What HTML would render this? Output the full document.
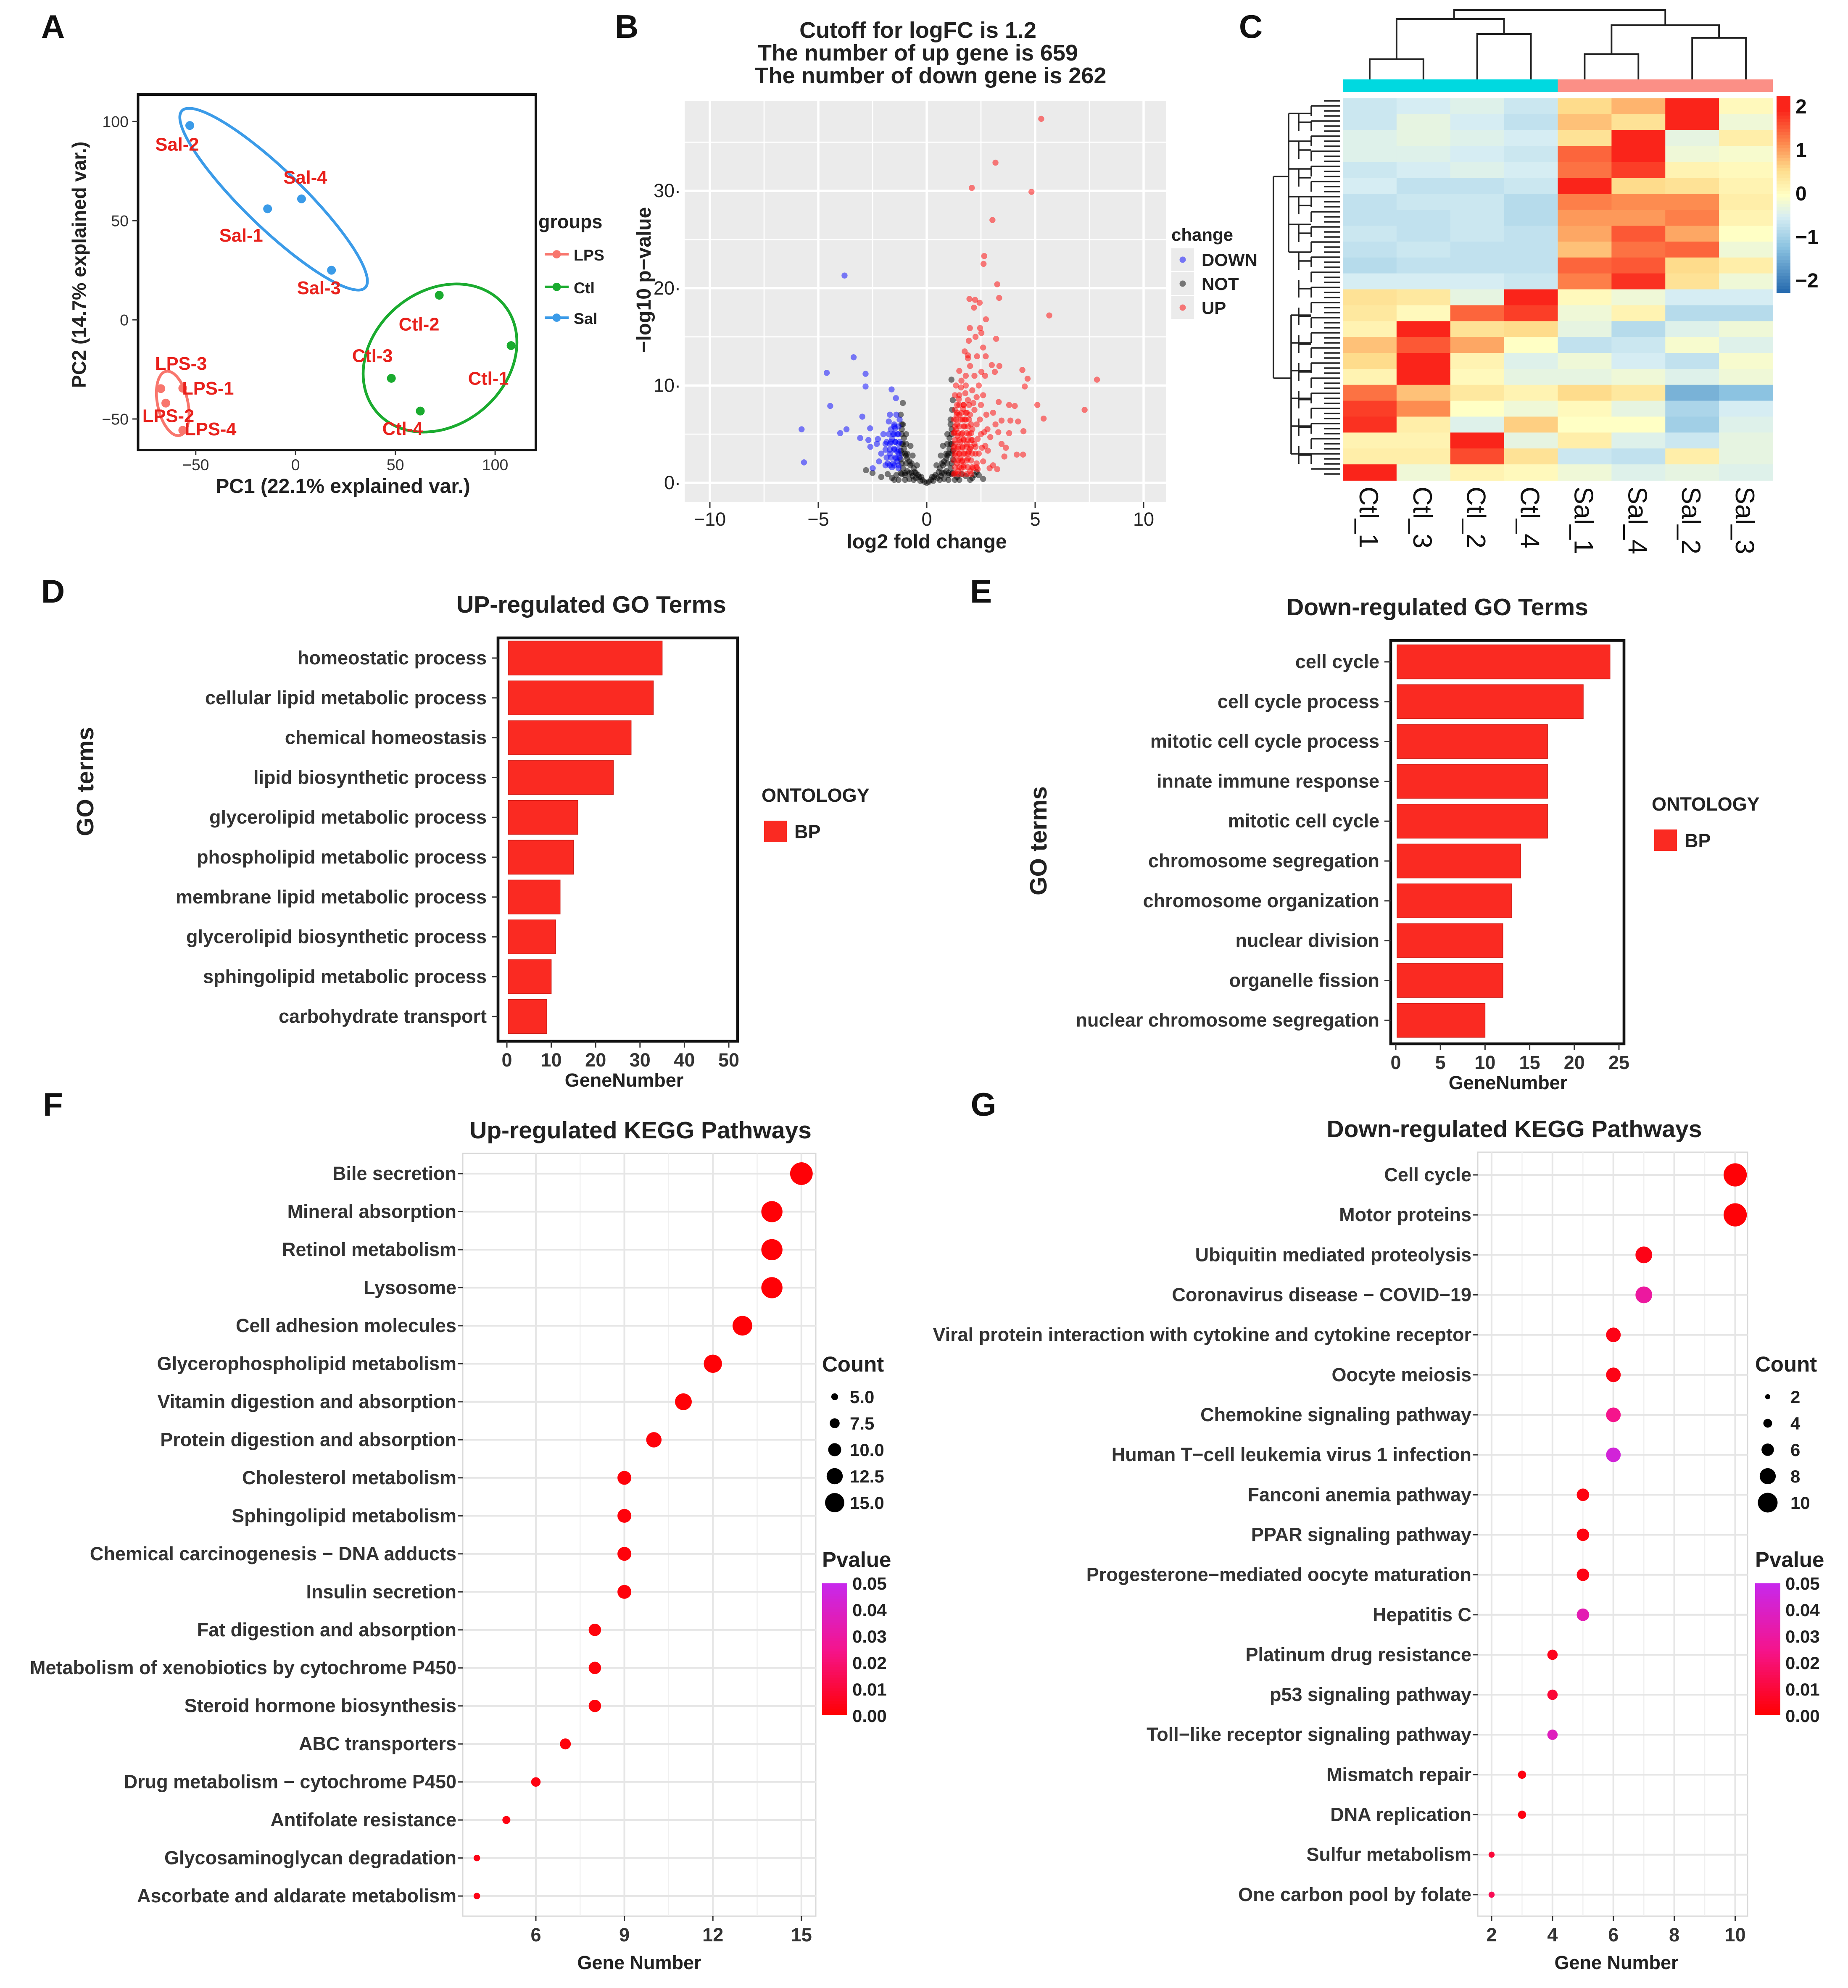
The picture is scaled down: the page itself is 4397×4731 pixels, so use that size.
<!DOCTYPE html>
<html><head><meta charset="utf-8"><style>
html,body{margin:0;padding:0;background:#fff}
svg{display:block}
text{font-family:"Liberation Sans",Arial,sans-serif}
</style></head><body>
<svg id="fig" xmlns="http://www.w3.org/2000/svg" width="4397" height="4731" viewBox="0 0 1465.67 1577"></svg>
<script>
// ---------- DATA ----------
// Panel A PCA
const pcaLabels=["Sal-2","Sal-4","Sal-1","Sal-3","Ctl-2","Ctl-1","Ctl-3","Ctl-4","LPS-3","LPS-1","LPS-2","LPS-4"];
const pcaGroups=["Sal","Sal","Sal","Sal","Ctl","Ctl","Ctl","Ctl","LPS","LPS","LPS","LPS"];
const pcaX=[-53,3,-14,18,72,108,48,62.5,-67.5,-56.5,-65,-56.5];
const pcaY=[98,61,56,25,12.4,-13,-29.5,-46,-34.7,-34.5,-42,-55.7];
// Panel B volcano
const upPts=[[5.28,37.4],[3.17,32.9],[2.08,30.3],[4.83,29.9],[3.03,27.0],[2.65,23.3],[2.62,22.5],[3.25,20.4],[3.34,19.0],[1.97,18.9],[2.23,18.8],[2.44,18.5],[2.18,18.0],[5.65,17.2],[2.73,16.8],[1.99,15.9],[2.46,15.9],[2.52,15.4],[3.2,14.8],[1.94,14.6],[2.25,15.0],[2.6,13.9],[1.75,13.5],[1.9,13.1],[2.32,13.0],[2.72,13.0],[3.0,12.1],[3.35,12.0],[3.14,11.4],[4.41,11.6],[4.65,10.7],[7.85,10.6],[4.52,9.9],[2.52,11.4],[2.69,11.0],[3.32,8.3],[3.8,8.0],[4.06,7.9],[5.1,8.0],[7.28,7.5],[5.39,6.6],[3.06,7.2],[3.45,6.4],[3.86,6.4],[4.21,6.3],[3.3,5.2],[3.8,5.1],[4.46,5.3],[3.45,4.0],[3.65,3.6],[4.15,2.9],[4.44,2.9],[3.58,2.7],[3.06,1.8],[3.25,1.4],[2.82,3.3],[3.17,6.0],[2.93,4.7],
[1.3,1],[1.4,2],[1.5,3],[1.3,4],[1.6,5],[1.4,6],[1.5,7],[1.7,8],[1.3,9],[1.8,10],[1.6,1.5],[1.9,2.5],[2.0,3.5],[1.7,4.5],[2.1,5.5],[1.8,6.5],[2.2,7.5],[1.9,8.5],[2.1,9.5],[2.3,2],[2.4,3],[2.2,4],[2.5,5],[2.3,6],[2.0,7],[1.4,8],[1.5,9],[1.35,5.5],[1.45,3.5],[1.55,2.5],[1.65,6.5],[1.75,3],[1.85,4],[1.95,5],[2.05,6],[2.15,1.5],[2.25,3],[2.35,4.5],[2.45,6.5],[2.6,2.2],[2.7,3.8],[2.8,5.5],[2.5,8],[2.4,10],[2.2,11],[2.0,12],[1.8,11],[1.6,10.5],[1.3,7.5],[1.25,6.5],[1.3,2.8],[1.7,1.8],[2.0,1.2],[2.9,1.5],[2.75,7],[2.6,9],[1.5,11.5],[1.9,12.8],[1.35,10],[2.3,8.8],[1.45,1.2],[1.55,4.2],[1.65,3.6],[1.75,5.8],[1.85,7.2],[1.95,3.2],[2.05,4.4],[2.15,8.2],[1.25,3.4],[1.28,5.2],[1.38,7.0],[1.48,8.6],[1.58,9.8],[1.68,7.6],[1.78,9.2],[2.35,1.4],[2.55,3.6],[2.65,5.2],[1.42,4.8],[1.62,2.2],
[1.25,0.9],[1.45,0.9],[1.65,0.9],[1.85,0.9],[2.05,0.9],
[1.3,1.6],[1.5,1.6],[1.7,1.6],[1.9,1.6],[2.1,1.6],[2.3,1.6],
[1.25,2.3],[1.45,2.3],[1.65,2.3],[1.85,2.3],[2.05,2.3],
[1.3,3.0],[1.5,3.0],[1.7,3.0],[1.9,3.0],[2.1,3.0],
[1.25,3.7],[1.45,3.7],[1.65,3.7],[1.85,3.7],[2.05,3.7],[2.25,3.7],
[1.3,4.4],[1.5,4.4],[1.7,4.4],[1.9,4.4],[2.1,4.4],
[1.25,5.1],[1.45,5.1],[1.65,5.1],[1.85,5.1],[2.05,5.1],
[1.3,5.8],[1.5,5.8],[1.7,5.8],[1.9,5.8],
[1.35,6.5],[1.55,6.5],[1.75,6.5],[1.95,6.5],
[1.4,7.2],[1.6,7.2],[1.8,7.2],
[1.5,8.0],[1.7,8.0],[1.95,8.0]];
const downPts=[[-3.79,21.3],[-3.37,12.9],[-4.61,11.3],[-2.82,11.2],[-2.82,9.9],[-1.62,9.6],[-1.42,8.7],[-4.45,7.9],[-1.7,7.0],[-2.97,6.8],[-5.77,5.5],[-3.7,5.5],[-3.99,5.1],[-2.61,5.6],[-3.07,4.6],[-2.69,4.4],[-2.6,3.7],[-5.66,2.1],[-2.49,1.5],[-2.25,4.5],
[-1.3,1.5],[-1.4,2.5],[-1.5,3.5],[-1.6,4.5],[-1.3,5],[-1.5,6],[-1.7,3],[-1.8,2],[-1.9,4],[-2.0,5],[-1.35,3.2],[-1.45,4.2],[-1.55,2],[-1.65,5.5],[-1.75,6.3],[-2.1,3],[-2.2,2.2],[-1.25,6.5],[-1.4,7],[-2.3,4],[-1.6,1.6],[-1.9,1.8],[-1.3,4],[-1.5,5],[-1.35,2.2],[-1.45,5.6],[-1.7,4.0],[-1.28,3.0],
[-1.3,1.8],[-1.5,1.8],[-1.7,1.8],
[-1.25,2.6],[-1.45,2.6],[-1.65,2.6],[-1.85,2.6],
[-1.3,3.4],[-1.5,3.4],[-1.7,3.4],[-1.9,3.4],
[-1.25,4.2],[-1.45,4.2],[-1.65,4.2],[-1.85,4.2],
[-1.35,5.0],[-1.55,5.0],[-1.75,5.0],
[-1.3,5.8],[-1.5,5.8]];
const notPts=[[0,0],[-0.2,0.3],[0.2,0.3],[-0.4,0.8],[0.4,0.8],[-0.6,1.5],[0.6,1.5],[-0.8,2.2],[0.8,2.2],[-1.0,3],[1.0,3],[-1.1,4],[1.1,4],[-1.15,5.5],[1.15,5.5],[-1.2,7],[1.17,7.5],[-0.5,0.5],[0.5,0.5],[-0.7,1],[0.7,1],[-0.9,1.2],[0.9,1.2],[-1.1,1.5],[1.1,1.5],[-1.0,0.8],[1.0,0.8],[-0.3,0.2],[0.3,0.2],[-0.9,2.5],[0.9,2.5],[-1.05,3.5],[1.05,3.5],[-1.15,0.9],[1.15,0.9],[1.14,10.6],[1.2,8.5],[-1.1,8.2],[-1.2,1.0],[1.4,0.6],[1.6,0.9],[1.8,0.7],[2.1,0.5],[2.4,0.8],[2.6,0.4],[-1.4,0.8],[-1.6,0.5],[-1.8,0.9],[-2.5,1.0],[-2.8,1.3],[-1.3,0.3],[1.3,0.3],[0.8,0.4],[-0.8,0.4],[2.3,1.1],[-2.1,0.6],[-0.1,0.1],[0.1,0.1],[-0.35,0.6],[0.35,0.6],[-0.55,1.1],[0.55,1.1],[-0.75,1.8],[0.75,1.8],[-0.95,2.8],[0.95,2.8],[-1.1,6],[1.1,6.5],[1.05,4.6],[-1.05,4.6],[-0.65,0.7],[0.65,0.7],[1.2,2.4],[-1.2,2.4],[1.2,3.3],[-1.2,3.3],
[-1.5,0.3],[-1.0,0.3],[-0.6,0.3],[0.6,0.3],[1.0,0.3],[1.5,0.3],[2.0,0.3],
[-1.0,1.0],[-0.8,1.0],[-0.5,1.0],[-0.25,0.6],[0.25,0.6],[0.8,1.0],[1.0,1.0],[1.2,1.0],[2.2,0.8],
[-1.15,2.0],[-0.95,2.0],[-0.7,2.0],[-0.45,1.8],[0.45,1.8],[0.7,2.0],[0.95,2.0],[1.15,2.0],
[-1.15,3.0],[-0.9,3.0],[-0.65,2.8],[0.65,2.8],[0.9,3.0],[1.15,3.0],
[-1.15,4.0],[-0.95,4.0],[-0.75,3.8],[0.75,3.8],[0.95,4.0],[1.15,4.0],
[-1.15,5.0],[-0.95,5.0],[0.95,5.0],[1.15,5.0],[-1.15,6.0],[1.1,6.0]];
// Panel C heatmap
const hmCols=["Ctl_1","Ctl_3","Ctl_2","Ctl_4","Sal_1","Sal_4","Sal_2","Sal_3"];
const hmVals=[
[-0.6,-0.5,-0.4,-0.6,0.6,0.9,2.0,0.1],[-0.6,-0.3,-0.5,-0.7,0.8,0.5,2.0,-0.2],[-0.4,-0.3,-0.4,-0.5,0.5,2.0,-0.3,0.3],[-0.4,-0.4,-0.5,-0.6,1.5,2.0,-0.2,-0.1],
[-0.6,-0.5,-0.4,-0.5,1.4,1.8,0.2,0.1],[-0.5,-0.7,-0.7,-0.6,2.0,0.6,0.5,0.2],[-0.7,-0.6,-0.6,-0.8,1.3,1.2,1.2,0.3],[-0.7,-0.7,-0.6,-0.8,1.1,1.1,1.3,0.2],
[-0.6,-0.7,-0.6,-0.7,1.0,1.6,1.0,0.0],[-0.7,-0.6,-0.7,-0.7,0.8,1.4,1.5,-0.2],[-0.8,-0.7,-0.7,-0.7,1.5,1.6,0.6,0.3],[-0.5,-0.5,-0.5,-0.6,1.3,1.9,0.5,-0.2],
[0.5,0.4,-0.3,2.0,0.1,-0.2,-0.5,-0.5],[0.4,0.1,1.5,1.8,-0.2,0.2,-0.8,-0.8],[0.2,2.0,0.5,0.6,-0.3,-0.8,-0.4,-0.2],[0.8,1.6,1.0,0.0,-0.7,-0.6,-0.1,-0.4],
[0.6,2.0,0.2,-0.4,-0.2,-0.5,-0.7,-0.1],[0.2,2.0,0.1,-0.3,-0.3,-0.2,-0.4,-0.2],[1.4,0.8,0.4,0.2,0.6,0.4,-1.4,-1.2],[1.8,1.2,0.0,-0.2,0.1,-0.3,-0.9,-0.5],
[1.9,0.3,-0.4,0.7,0.0,0.0,-1.0,-0.4],[0.2,0.2,2.0,-0.3,0.3,-0.4,-0.6,-0.3],[0.3,0.3,1.7,0.5,-0.6,-0.7,0.3,-0.3],[2.0,-0.2,0.2,0.1,-0.2,-0.4,-0.3,-0.4]];
const hmTicks=[2,1,0,-1,-2];
// Panel D
const goUpTerms=["homeostatic process","cellular lipid metabolic process","chemical homeostasis","lipid biosynthetic process","glycerolipid metabolic process","phospholipid metabolic process","membrane lipid metabolic process","glycerolipid biosynthetic process","sphingolipid metabolic process","carbohydrate transport"];
const goUpVals=[35,33,28,24,16,15,12,11,10,9];
const goUpTicks=[0,10,20,30,40,50];
// Panel E
const goDownTerms=["cell cycle","cell cycle process","mitotic cell cycle process","innate immune response","mitotic cell cycle","chromosome segregation","chromosome organization","nuclear division","organelle fission","nuclear chromosome segregation"];
const goDownVals=[24,21,17,17,17,14,13,12,12,10];
const goDownTicks=[0,5,10,15,20,25];
// Panel F
const keggUpTerms=["Bile secretion","Mineral absorption","Retinol metabolism","Lysosome","Cell adhesion molecules","Glycerophospholipid metabolism","Vitamin digestion and absorption","Protein digestion and absorption","Cholesterol metabolism","Sphingolipid metabolism","Chemical carcinogenesis \u2212 DNA adducts","Insulin secretion","Fat digestion and absorption","Metabolism of xenobiotics by cytochrome P450","Steroid hormone biosynthesis","ABC transporters","Drug metabolism \u2212 cytochrome P450","Antifolate resistance","Glycosaminoglycan degradation","Ascorbate and aldarate metabolism"];
const keggUpVals=[15,14,14,14,13,12,11,10,9,9,9,9,8,8,8,7,6,5,4,4];
const keggUpP=[0.001,0.001,0.001,0.001,0.001,0.001,0.001,0.002,0.002,0.002,0.002,0.002,0.002,0.002,0.002,0.002,0.003,0.003,0.004,0.004];
const keggUpTicks=[6,9,12,15];
const keggUpSizeLegend=[5.0,7.5,10.0,12.5,15.0];
// Panel G
const keggDownTerms=["Cell cycle","Motor proteins","Ubiquitin mediated proteolysis","Coronavirus disease \u2212 COVID\u221219","Viral protein interaction with cytokine and cytokine receptor","Oocyte meiosis","Chemokine signaling pathway","Human T\u2212cell leukemia virus 1 infection","Fanconi anemia pathway","PPAR signaling pathway","Progesterone\u2212mediated oocyte maturation","Hepatitis C","Platinum drug resistance","p53 signaling pathway","Toll\u2212like receptor signaling pathway","Mismatch repair","DNA replication","Sulfur metabolism","One carbon pool by folate"];
const keggDownVals=[10,10,7,7,6,6,6,6,5,5,5,5,4,4,4,3,3,2,2];
const keggDownP=[0.001,0.001,0.004,0.03,0.004,0.004,0.025,0.045,0.003,0.003,0.004,0.035,0.005,0.01,0.038,0.003,0.003,0.01,0.015];
const keggDownTicks=[2,4,6,8,10];
const keggDownSizeLegend=[2,4,6,8,10];
const pTicks=[0.05,0.04,0.03,0.02,0.01,0.00];

// ---------- HELPERS ----------
const svg=document.getElementById('fig');
const NS="http://www.w3.org/2000/svg";
function el(tag,attrs,parent){const e=document.createElementNS(NS,tag);for(const k in attrs)e.setAttribute(k,attrs[k]);(parent||svg).appendChild(e);return e;}
function txt(s,x,y,size,opts,parent){opts=opts||{};const t=el('text',{x:x,y:y,'font-size':size,'font-weight':opts.w||'bold',fill:opts.fill||'#222','text-anchor':opts.a||'start'},parent);if(opts.rot)t.setAttribute('transform','rotate('+opts.rot+' '+x+' '+y+')');t.textContent=s;return t;}
function grp(name){const g=el('g',{});return g;}

[["A",42,30],["B",497,30],["C",992,30],["D",42,478],["E",778,478],["F",42,885],["G",780,885]].forEach(p=>{const t=txt(p[0],p[1],p[2],26,{a:'middle',fill:'#111'});});

// ---------- PANEL A ----------
(function(){
const g=grp('pca-plot');
const xA=v=>234.4+v*1.583, yA=v=>253.7-v*1.573;
const col={LPS:'#f8766d',Ctl:'#1aab2f',Sal:'#3b9be8'};
el('rect',{x:109.5,y:75,width:315.5,height:282,fill:'none',stroke:'#111','stroke-width':2},g);
const e1=el('ellipse',{cx:217,cy:158,rx:101,ry:23,fill:'none',stroke:col.Sal,'stroke-width':2.2,transform:'rotate(44 217 158)'},g);

const e2=el('ellipse',{cx:349,cy:284,rx:66,ry:53,fill:'none',stroke:col.Ctl,'stroke-width':2.2,transform:'rotate(-40 349 284)'},g);

const e3=el('ellipse',{cx:137,cy:320,rx:12,ry:26,fill:'none',stroke:col.LPS,'stroke-width':2.2,transform:'rotate(-12 137 320)'},g);

pcaX.forEach((v,i)=>{
 const c=el('circle',{cx:xA(v),cy:yA(pcaY[i]),r:3.5,fill:col[pcaGroups[i]]},g);
 
});
const lo={"Sal-2":[-10,15],"Sal-4":[3,-17],"Sal-1":[-21,21],"Sal-3":[-10,14],"Ctl-2":[-16,23],"Ctl-1":[-18,26],"Ctl-3":[-15,-18],"Ctl-4":[-14,14],"LPS-3":[16,-20],"LPS-1":[20,0],"LPS-2":[2,10],"LPS-4":[22,-1]};
pcaLabels.forEach((s,i)=>{const t=txt(s,xA(pcaX[i])+lo[s][0],yA(pcaY[i])+lo[s][1]+5,14.5,{fill:'#e8211c',a:'middle'},g);});
[-50,0,50,100].forEach(v=>{el('line',{x1:xA(v),x2:xA(v),y1:357,y2:361,stroke:'#333'},g);txt(String(v).replace('-','\u2212'),xA(v),373,12.5,{a:'middle',w:'normal',fill:'#333'},g);});
[100,50,0,-50].forEach(v=>{el('line',{x1:105,x2:109.5,y1:yA(v),y2:yA(v),stroke:'#333'},g);txt(String(v).replace('-','\u2212'),102,yA(v)+4.5,12.5,{a:'end',w:'normal',fill:'#333'},g);});
txt('PC1 (22.1% explained var.)',272,391,16,{a:'middle'},g);
txt('PC2 (14.7% explained var.)',68,210,15.5,{a:'middle',rot:-90},g);
txt('groups',427,181,15,{},g);
[['LPS',201.7],['Ctl',227.6],['Sal',252]].forEach(r=>{el('line',{x1:432,x2:451,y1:r[1],y2:r[1],stroke:col[r[0]],'stroke-width':2},g);el('circle',{cx:441.5,cy:r[1],r:3.3,fill:col[r[0]]},g);txt(r[0],455,r[1]+5,12.5,{},g);});
})();

// ---------- PANEL B ----------
(function(){
const g=grp('volcano-plot');
const xB=v=>735+v*17.2, yB=v=>383-v*7.72;
el('rect',{x:543,y:80,width:382,height:318,fill:'#ebebeb'},g);
for(let v=-12.5;v<=12.5;v+=2.5){const x=xB(v);if(x<543||x>925)continue;const maj=(v%5===0);el('line',{x1:x,x2:x,y1:80,y2:398,stroke:'#fff','stroke-width':maj?1.8:0.9},g);}
for(let v=-5;v<=40;v+=5){const y=yB(v);if(y<80||y>398)continue;const maj=(v%10===0);el('line',{x1:543,x2:925,y1:y,y2:y,stroke:'#fff','stroke-width':maj?1.8:0.9},g);}
function pts(arr,c,name){arr.forEach(p=>{const e=el('circle',{cx:xB(p[0]),cy:yB(p[1]),r:2.4,fill:c,'fill-opacity':0.5},g);});}
pts(notPts,'#000','volcano-point-not');pts(downPts,'#0000ff','volcano-point-down');pts(upPts,'#ff0000','volcano-point-up');
[-10,-5,0,5,10].forEach(v=>{el('line',{x1:xB(v),x2:xB(v),y1:398,y2:403,stroke:'#333'},g);txt(String(v).replace('-','\u2212'),xB(v),417,15,{a:'middle',w:'normal',fill:'#222'},g);});
[0,10,20,30].forEach(v=>{txt(String(v)+'\u00b7',540,yB(v)+5,15,{a:'end',w:'normal',fill:'#222'},g);});
txt('log2 fold change',735,435,16,{a:'middle'},g);
txt('\u2212log10 p\u2212value',516,222,16,{a:'middle',rot:-90},g);
txt('Cutoff for logFC is 1.2',728,30,18,{a:'middle'},g);
txt('The number of up gene is 659',728,48,18,{a:'middle'},g);
txt('The number of down gene is 262',738,66,18,{a:'middle'},g);
txt('change',929,191,14,{},g);
[['DOWN','#0000ff',206],['NOT','#000',225],['UP','#ff0000',244]].forEach(r=>{el('rect',{x:929,y:r[2]-9,width:18,height:18,fill:'#ebebeb'},g);el('circle',{cx:938,cy:r[2],r:2.5,fill:r[1],'fill-opacity':0.5},g);txt(r[0],953,r[2]+5,14,{},g);});
})();

// ---------- PANEL C ----------
(function(){
const g=grp('heatmap');
const x0=1065,y0=78,w=341/8,H=303,rh=H/hmVals.length;
const stops=[[-2.3,[33,102,172]],[-1.2,[140,195,225]],[-0.5,[214,237,243]],[0,[255,255,197]],[0.6,[254,220,140]],[1.2,[253,140,80]],[2.0,[250,36,26]]];
function cmap(v){if(v<=stops[0][0])return 'rgb('+stops[0][1]+')';for(let i=1;i<stops.length;i++){if(v<=stops[i][0]){const a=stops[i-1],b=stops[i],t=(v-a[0])/(b[0]-a[0]);return 'rgb('+a[1].map((c,k)=>Math.round(c+(b[1][k]-c)*t)).join(',')+')';}}return 'rgb('+stops[stops.length-1][1]+')';}
hmVals.forEach((row,r)=>row.forEach((v,c)=>{const e=el('rect',{x:x0+c*w,y:y0+r*rh,width:w+0.3,height:rh+0.3,fill:cmap(v)},g);}));
el('rect',{x:x0,y:63,width:w*4,height:10,fill:'#00d9e0'},g);
el('rect',{x:x0+w*4,y:63,width:w*4,height:10,fill:'#fb8f86'},g);
hmCols.forEach((s,i)=>{const t=txt(s,x0+w*(i+0.5)-8,386,21,{w:'normal',fill:'#111',rot:90},g);});
const cx=i=>x0+w*(i+0.5);
const d='M'+cx(0)+',63V47H'+cx(1)+'V63 M'+cx(2)+',63V27H'+cx(3)+'V63 M'+((cx(0)+cx(1))/2)+',47V15H'+((cx(2)+cx(3))/2)+'V27 M'+cx(4)+',63V43H'+cx(5)+'V63 M'+cx(6)+',63V30H'+cx(7)+'V63 M'+((cx(4)+cx(5))/2)+',43V20H'+((cx(6)+cx(7))/2)+'V30 M'+((cx(0)+cx(3))/2+3)+',15V8H'+((cx(4)+cx(7))/2)+'V20';
const td=el('path',{d:d,fill:'none',stroke:'#222','stroke-width':1.3},g);
let ld='M1010,140V300 M1010,140H1022 M1010,300H1024 M1022,90V200 M1024,250V360';
for(let y=80;y<=378;y+=4){const d2=(y%12===0)?1040:1050;ld+=' M'+d2+','+y+'H1063';}
for(let y=84;y<=370;y+=12){ld+=' M1040,'+y+'V'+(y+8);}
for(let y=90;y<=200;y+=22){ld+=' M1022,'+y+'H1040';}
for(let y=250;y<=360;y+=22){ld+=' M1024,'+y+'H1040';}
for(let y=90;y<=360;y+=22){ld+=' M1030,'+y+'V'+(y+14)+' M1030,'+(y+7)+'H1040';}
const lde=el('path',{d:ld,fill:'none',stroke:'#222','stroke-width':1.2},g);
const cb=grp('heatmap-colorbar');g.appendChild(cb);
for(let i=0;i<60;i++){const v=2.3-i*4.6/60;el('rect',{x:1409,y:76+i*156/60,width:11,height:156/60+0.5,fill:cmap(v)},cb);}
const yC=v=>153-v*34.5;
hmTicks.forEach(v=>txt(String(v).replace('-','\u2212'),1424,yC(v)+6,16,{fill:'#111'},cb));
})();

// ---------- PANELS D/E ----------
function barPanel(name,terms,vals,ticks,bx,by,bw,bh,x0,scale,rowY0,rowStep,title,titleX,gnX,goX,goY,legX,legY){
 const g=grp(name);
 el('rect',{x:bx,y:by,width:bw,height:bh,fill:'none',stroke:'#111','stroke-width':2.2},g);
 vals.forEach((v,i)=>{const y=rowY0+i*rowStep;const r=el('rect',{x:x0+1,y:y-13.5,width:v*scale-1,height:27,fill:'#fa2a22',stroke:'#cc1a14','stroke-width':0.5},g);
  el('line',{x1:bx-5,x2:bx,y1:y,y2:y,stroke:'#333'},g);txt(terms[i],bx-9,y+5,15,{a:'end',w:'600',fill:'#333'},g);});
 ticks.forEach(v=>{const x=x0+v*scale;el('line',{x1:x,x2:x,y1:by+bh,y2:by+bh+5,stroke:'#333'},g);txt(String(v),x,by+bh+20,15,{a:'middle',w:'600',fill:'#333'},g);});
 txt(title,titleX,by-20,19,{a:'middle',fill:'#222'},g);
 txt('GeneNumber',gnX,by+bh+36,15,{a:'middle',fill:'#222'},g);
 txt('GO terms',goX,goY,19,{a:'middle',rot:-90,fill:'#222'},g);
 txt('ONTOLOGY',legX,legY,15,{fill:'#222'},g);
 el('rect',{x:legX+2,y:legY+15,width:18,height:17,fill:'#fa2a22'},g);
 txt('BP',legX+26,legY+29,15,{fill:'#222'},g);
}
barPanel('go-up-chart',goUpTerms,goUpVals,goUpTicks,395,506,190,320,402,3.52,522,31.6,'UP-regulated GO Terms',469,495,74,620,604,636);
barPanel('go-down-chart',goDownTerms,goDownVals,goDownTicks,1103,508,185,320,1107,7.08,525,31.6,'Down-regulated GO Terms',1140,1196,830,667,1310,643);

// ---------- PANELS F/G ----------
function dotPanel(name,terms,vals,pv,ticks,px,py,pw,ph,xfun,rowY0,rowStep,rfun,title,titleX,gnX,legX,sizeLeg,sizeLabX){
 const g=grp(name);
 el('rect',{x:px,y:py,width:pw,height:ph,fill:'#fff',stroke:'#d9d9d9','stroke-width':1},g);
 ticks.forEach(v=>el('line',{x1:xfun(v),x2:xfun(v),y1:py,y2:py+ph,stroke:'#e6e6e6','stroke-width':1.4},g));
 for(let i=0;i<ticks.length-1;i++){const m=(ticks[i]+ticks[i+1])/2;el('line',{x1:xfun(m),x2:xfun(m),y1:py,y2:py+ph,stroke:'#f0f0f0','stroke-width':0.8},g);}
 terms.forEach((s,i)=>{const y=rowY0+i*rowStep;el('line',{x1:px,x2:px+pw,y1:y,y2:y,stroke:'#e6e6e6','stroke-width':1.4},g);el('line',{x1:px-4,x2:px,y1:y,y2:y,stroke:'#333'},g);txt(s,px-5,y+5,15,{a:'end',w:'600',fill:'#333'},g);});
 function pcol(p){const s=[[0,[255,0,0]],[0.025,[245,20,140]],[0.05,[200,40,235]]];for(let i=1;i<s.length;i++){if(p<=s[i][0]){const a=s[i-1],b=s[i],t=(p-a[0])/(b[0]-a[0]);return 'rgb('+a[1].map((c,k)=>Math.round(c+(b[1][k]-c)*t)).join(',')+')';}}return 'rgb(200,40,235)';}
 vals.forEach((v,i)=>{const c=el('circle',{cx:xfun(v),cy:rowY0+i*rowStep,r:rfun(v),fill:pcol(pv[i])},g);});
 ticks.forEach(v=>{el('line',{x1:xfun(v),x2:xfun(v),y1:py+ph,y2:py+ph+4,stroke:'#333'},g);txt(String(v),xfun(v),py+ph+20,15,{a:'middle',w:'600',fill:'#333'},g);});
 txt(title,titleX,py-12,19,{a:'middle',fill:'#222'},g);
 txt('Gene Number',gnX,1562,15,{a:'middle',fill:'#222'},g);
 txt('Count',legX,1088,17,{fill:'#222'},g);
 sizeLeg.forEach((v,i)=>{const y=1108+i*21;el('circle',{cx:legX+10,cy:y,r:rfun(v)*0.85,fill:'#000'},g);txt(v.toFixed(sizeLeg[1]%1?1:0),sizeLabX,y+5,14,{fill:'#222'},g);});
 txt('Pvalue',legX,1243,17,{fill:'#222'},g);
 for(let i=0;i<50;i++){const p=0.05-i*0.001;el('rect',{x:legX,y:1256+i*104/50,width:20,height:104/50+0.5,fill:pcol(p)},g);}
 pTicks.forEach((v,i)=>txt(v.toFixed(2),legX+24,1261+i*21,14,{fill:'#222'},g));
}
dotPanel('kegg-up-chart',keggUpTerms,keggUpVals,keggUpP,keggUpTicks,367,915,280,605,v=>425+(v-6)*23.4,931,30.16,c=>2.6+(c-4)*0.58,'Up-regulated KEGG Pathways',508,507,652,keggUpSizeLegend,674);
dotPanel('kegg-down-chart',keggDownTerms,keggDownVals,keggDownP,keggDownTicks,1172,914,214,606,v=>1183+(v-2)*24.15,932,31.72,c=>2.4+(c-2)*0.85,'Down-regulated  KEGG Pathways',1201,1282,1392,keggDownSizeLegend,1420);
</script>
</body></html>
